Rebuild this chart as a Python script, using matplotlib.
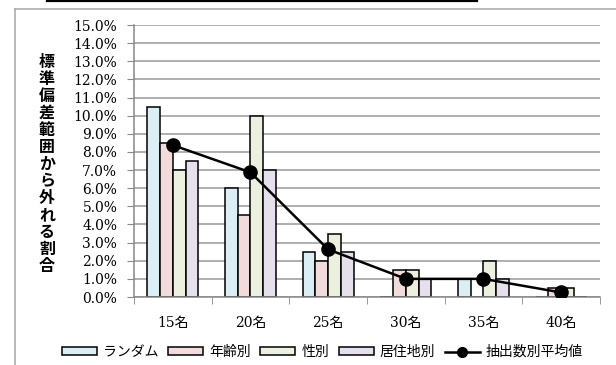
import matplotlib
matplotlib.use("Agg")
import matplotlib.pyplot as plt
import numpy as np
from matplotlib.lines import Line2D

# Data (percent)
categories = ["15名", "20名", "25名", "30名", "35名", "40名"]
series_names = ["ランダム", "年齢別", "性別", "居住地別"]
random_vals = [10.5, 6.0, 2.5, 0.0, 1.0, 0.0]
age_vals = [8.5, 4.5, 2.0, 1.5, 0.0, 0.5]
sex_vals = [7.0, 10.0, 3.5, 1.5, 2.0, 0.5]
area_vals = [7.5, 7.0, 2.5, 1.0, 1.0, 0.0]
line_name = "抽出数別平均値"
y_ticks = np.arange(0, 15.5, 1.0)
y_label = "標準偏差範囲から外れる割合"

bar_colors = ["#DAEEF3", "#F2DCDB", "#EBF1DE", "#E5E0EC"]

serif_jp = ["DejaVu Serif", "Noto Sans CJK JP"]
gothic_jp = ["Noto Sans CJK JP", "DejaVu Sans"]
plt.rcParams["font.family"] = serif_jp

fig = plt.figure(figsize=(6.16, 3.65), dpi=100)
ax = fig.add_axes([0.2175, 0.1863, 0.9740 - 0.2175, 0.9315 - 0.1863])

series = [random_vals, age_vals, sex_vals, area_vals]
avg_vals = np.mean(np.array(series), axis=0)

x = np.arange(len(categories))
w = 0.165
offsets = (np.arange(4) - 1.5) * w
bar_handles = []
for vals, off, col, name in zip(series, offsets, bar_colors, series_names):
    b = ax.bar(x + off, vals, width=w, color=col, edgecolor="black",
               linewidth=1.1, label=name, zorder=2)
    bar_handles.append(b)

ax.plot(x, avg_vals, color="black", lw=1.8, marker="o", markersize=9.5, zorder=3)

ax.set_xlim(-0.5, len(categories) - 0.5)
ax.set_ylim(0, 15)
ax.set_yticks(y_ticks)
ax.set_yticklabels([f"{v:.1f}%" for v in y_ticks], fontsize=10)
ax.set_xticks(x)
ax.set_xticklabels(categories, fontsize=10)
for lbl in ax.get_xticklabels() + ax.get_yticklabels():
    lbl.set_fontfamily(serif_jp)
ax.set_xticks(np.arange(-0.5, len(categories), 1.0), minor=True)
ax.tick_params(axis="x", which="major", length=0, pad=14)
ax.tick_params(axis="x", which="minor", length=5, color="#888888", direction="out")
ax.tick_params(axis="y", length=5, color="#888888", direction="out", pad=7)

ax.yaxis.grid(True, color="#9a9a9a", lw=1.1, zorder=0)
ax.set_axisbelow(True)
for s in ["top", "right"]:
    ax.spines[s].set_visible(False)
for s in ["left", "bottom"]:
    ax.spines[s].set_color("#888888")
    ax.spines[s].set_linewidth(1.1)

# Vertical stacked axis title
fig.text(47 / 616, 1 - 164 / 365, "\n".join(y_label), ha="center", va="center",
         family=gothic_jp, fontweight="bold", fontsize=11.5, linespacing=1.08)

# Legend below the plot, average line last
line_handle = Line2D([], [], color="black", lw=1.8, marker="o", markersize=7)
handles = bar_handles + [line_handle]
labels = series_names + [line_name]
fig.legend(handles, labels, loc="center", bbox_to_anchor=(0.5235, 0.036),
           ncol=5, frameon=False, prop={"family": gothic_jp, "size": 10},
           handlelength=2.5, handleheight=0.45, handletextpad=0.45,
           columnspacing=0.7, borderpad=0)

# Chart frame (top and left edges) and heading rule
fig.add_artist(Line2D([15 / 616, 15 / 616], [0, 1 - 9 / 365], transform=fig.transFigure,
                      color="#a6a6a6", lw=1.1))
fig.add_artist(Line2D([15 / 616, 1], [1 - 9 / 365, 1 - 9 / 365], transform=fig.transFigure,
                      color="#a6a6a6", lw=1.1))
fig.add_artist(Line2D([47 / 616, 477 / 616], [1 - 0.8 / 365, 1 - 0.8 / 365],
                      transform=fig.transFigure, color="black", lw=1.6))

fig.savefig("out.png", dpi=100)
